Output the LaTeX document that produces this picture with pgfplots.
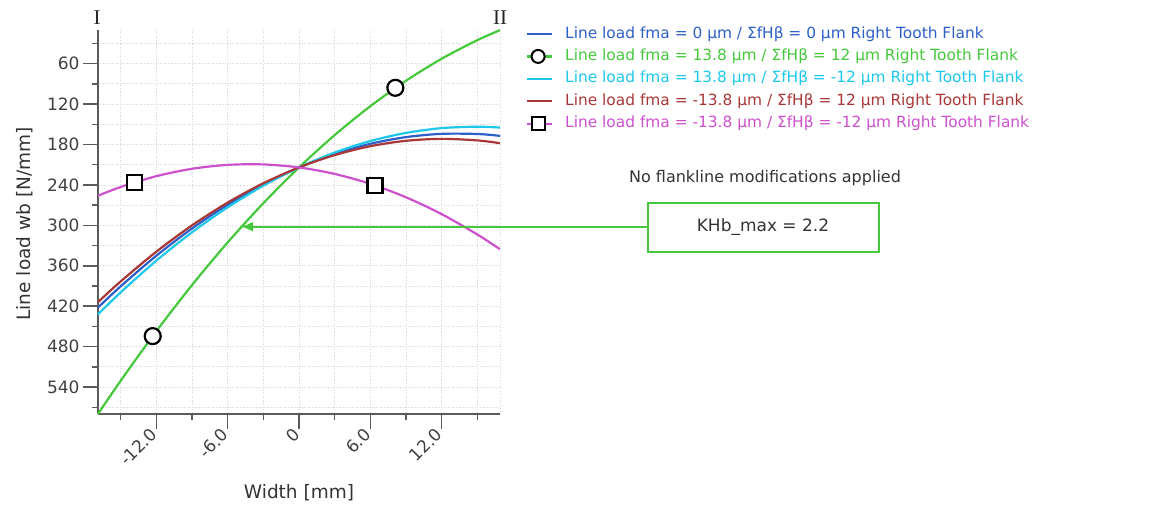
\documentclass[border=0pt]{standalone}
\usepackage{pgfplots}
\pgfplotsset{compat=1.18}
\usetikzlibrary{arrows.meta}
\usepackage{fontspec}
\setmainfont{DejaVu Sans}
\newfontfamily\serifI{Liberation Serif}
\definecolor{blueC}{RGB}{45,95,200}
\definecolor{greenC}{RGB}{70,200,60}
\definecolor{cyanC}{RGB}{30,200,235}
\definecolor{brownC}{RGB}{170,55,55}
\definecolor{magC}{RGB}{205,80,205}
\definecolor{axC}{RGB}{90,90,90}
\begin{document}
\begin{tikzpicture}
\useasboundingbox (-98pt,-91pt) rectangle (1073pt,414pt);
\begin{axis}[
  scale only axis, width=402pt, height=384pt,
  xmin=-16.9, xmax=16.9, ymin=10, ymax=580, y dir=reverse,
  axis lines=left,
  axis line style={-, draw=axC, line width=1.5pt},
  xtick={-12,-6,0,6,12}, xticklabels={-12.0,-6.0,0,6.0,12.0},
  ytick={60,120,180,240,300,360,420,480,540},
  yticklabels={60,120,180,240,300,360,420,480,540},
  minor xtick={-15,-9,-3,3,9,15},
  minor ytick={30,90,150,210,270,330,390,450,510,570},
  tick align=outside, major tick length=15pt, minor tick length=6pt,
  every tick/.style={draw=axC, line width=1.5pt},
  grid=both,
  major grid style={dotted, draw=black!16, line width=0.8pt},
  minor grid style={dotted, draw=black!16, line width=0.8pt},
  xticklabel style={rotate=45, anchor=east, font=\fontsize{17}{17}\selectfont, text=black!75},
  yticklabel style={font=\fontsize{17}{17}\selectfont, text=black!75},
  xlabel={Width [mm]}, ylabel={Line load wb [N/mm]},
  xlabel style={at={(axis description cs:0.5,-0.2057)}, anchor=center, font=\fontsize{18.5}{18.5}\selectfont, text=black!80},
  ylabel style={at={(axis description cs:-0.1816,0.495)}, anchor=center, font=\fontsize{18.5}{18.5}\selectfont, text=black!80},
  legend style={draw=none, fill=none, at={(axis description cs:1.0647,1.0091)}, anchor=north west,
    inner sep=0pt, outer sep=0pt, row sep=7.4pt, column sep=12pt,
    nodes={inner sep=0pt, text height=11.5pt, text depth=3.5pt},
    font=\fontsize{15.4}{18}\selectfont},
  legend cell align=left,
  clip=false,
]
\addplot[blueC, line width=2.2pt, smooth,
  legend image code/.code={\draw[blueC, line width=2.2pt] (0pt,0pt)--(25pt,0pt);}]
coordinates {(-16.9,421.97) (-15,390.55) (-12,345.09) (-9,304.70) (-6,269.39) (-3,239.16) (0,214) (3,193.92) (6,178.91) (9,168.98) (12,164.13) (15,164.35) (16.9,167.11)};
\addlegendentry{\textcolor{blueC}{Line load fma = 0 µm / ΣfHβ = 0 µm Right Tooth Flank}}
\addplot[greenC, line width=2.2pt, smooth,
  legend image code/.code={\draw[greenC, line width=2.2pt] (0pt,0pt)--(25pt,0pt); \draw[black, line width=2pt, fill=white] (11pt,0pt) circle (6.5pt);}]
coordinates {(-16.9,580.04) (-15,530.8) (-12,457.22) (-9,388.74) (-6,325.38) (-3,267.14) (0,214) (3,165.98) (6,123.06) (9,85.26) (12,52.58) (15,25.0) (16.9,10.18)};
\addlegendentry{\textcolor{greenC}{Line load fma = 13.8 µm / ΣfHβ = 12 µm Right Tooth Flank}}
\addplot[cyanC, line width=2.2pt, smooth,
  legend image code/.code={\draw[cyanC, line width=2.2pt] (0pt,0pt)--(25pt,0pt);}]
coordinates {(-16.9,431.98) (-15,399.55) (-12,352.43) (-9,310.32) (-6,273.21) (-3,241.10) (0,214) (3,191.90) (6,174.81) (9,162.72) (12,155.63) (15,153.55) (16.9,154.82)};
\addlegendentry{\textcolor{cyanC}{Line load fma = 13.8 µm / ΣfHβ = -12 µm Right Tooth Flank}}
\addplot[brownC, line width=2.2pt, smooth,
  legend image code/.code={\draw[brownC, line width=2.2pt] (0pt,0pt)--(25pt,0pt);}]
coordinates {(-16.9,413.93) (-15,383.28) (-12,339.09) (-9,300.07) (-6,266.21) (-3,237.52) (0,214) (3,195.64) (6,182.45) (9,174.43) (12,171.57) (15,173.88) (16.9,178.01)};
\addlegendentry{\textcolor{brownC}{Line load fma = -13.8 µm / ΣfHβ = 12 µm Right Tooth Flank}}
\addplot[magC, line width=2.2pt, smooth,
  legend image code/.code={\draw[magC, line width=2.2pt] (0pt,0pt)--(25pt,0pt); \draw[black, line width=2pt, fill=white] (5pt,-6.5pt) rectangle (18pt,6.5pt);}]
coordinates {(-16.9,255.96) (-15,243.1) (-12,226.98) (-9,216.02) (-6,210.2) (-3,209.52) (0,214) (3,223.62) (6,238.4) (9,258.32) (12,283.38) (15,313.6) (16.9,335.4)};
\addlegendentry{\textcolor{magC}{Line load fma = -13.8 µm / ΣfHβ = -12 µm Right Tooth Flank}}
\addplot[only marks, mark=*, mark size=8pt, mark options={draw=black, fill=white, line width=2.2pt}, forget plot]
coordinates {(-12.3,464.4) (8.1,95.8)};
\addplot[only marks, mark=square*, mark size=7.5pt, mark options={draw=black, fill=white, line width=2.2pt}, forget plot]
coordinates {(-13.8,236.0) (6.39,240.7)};
\draw[dotted, draw=black!16, line width=0.8pt] (axis cs:16.9,10) -- (axis cs:16.9,580);
\end{axis}
\node[font=\serifI\fontsize{21}{21}\selectfont, text=black!85] at (-1pt,396pt) {I};
\node[font=\serifI\fontsize{21}{21}\selectfont, text=black!85] at (402pt,396pt) {II};
\node[font=\fontsize{16}{16}\selectfont, text=black!80] at (667pt,236pt) {No flankline modifications applied};
\draw[greenC, line width=1.8pt] (550pt,162pt) rectangle (781pt,211pt);
\node[font=\fontsize{17}{17}\selectfont, text=black!80] at (665pt,186.5pt) {KHb\_max = 2.2};
\draw[greenC, line width=1.8pt, -{Latex[length=12pt,width=10pt]}] (550pt,187.3pt) -- (143pt,187.3pt);
\end{tikzpicture}
\end{document}
